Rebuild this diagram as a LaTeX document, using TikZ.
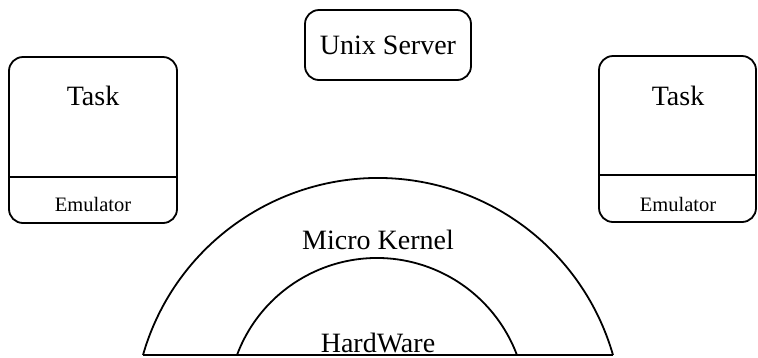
\documentclass[tikz,border=0pt]{standalone}
\usepackage{fontspec}
\setmainfont{Liberation Serif}
\begin{document}
\begin{tikzpicture}[x=1pt,y=-1pt,
  box/.style={draw, line width=1.8pt, rounded corners=14pt, inner sep=0pt},
  bigtxt/.style={font=\fontsize{28}{30}\selectfont, inner sep=0pt, anchor=base},
  smalltxt/.style={font=\fontsize{20.5}{22}\selectfont, inner sep=0pt, anchor=base},
  rule/.style={line width=1.8pt}]
\useasboundingbox (0,0) rectangle (758,357);

% server box
\node[box, minimum width=166pt, minimum height=70pt] (server) at (388,45) {};
\node[bigtxt] (serverlabel) at (388,54) {Unix Server};

% left task with emulator
\node[box, minimum width=168pt, minimum height=166pt] (ltask) at (93,140) {};
\node[bigtxt] (ltasklabel) at (93,105) {Task};
\node[smalltxt] (lemu) at (93,211) {Emulator};
\coordinate (ldiv) at (0,177);
\draw[rule] (ltask.west |- ldiv) -- (ltask.east |- ldiv);

% right task with emulator
\node[box, minimum width=157pt, minimum height=166pt] (rtask) at (677.5,139) {};
\node[bigtxt] (rtasklabel) at (678,105) {Task};
\node[smalltxt] (remu) at (678,211) {Emulator};
\coordinate (rdiv) at (0,175);
\draw[rule] (rtask.west |- rdiv) -- (rtask.east |- rdiv);

% kernel and hardware layers
\coordinate (kl) at (143,355);
\coordinate (kr) at (613,355);
\coordinate (hl) at (237,355);
\draw[rule] (kl) arc[start angle=-163.97, end angle=-16.03, radius=244.5];
\draw[rule] (hl) arc[start angle=-159.44, end angle=-20.56, radius=149.5];
\draw[rule] (kl) -- (kr);
\node[bigtxt] (kernel) at (378,249) {Micro Kernel};
\node[bigtxt] (hw) at (378,352) {HardWare};
\end{tikzpicture}
\end{document}
